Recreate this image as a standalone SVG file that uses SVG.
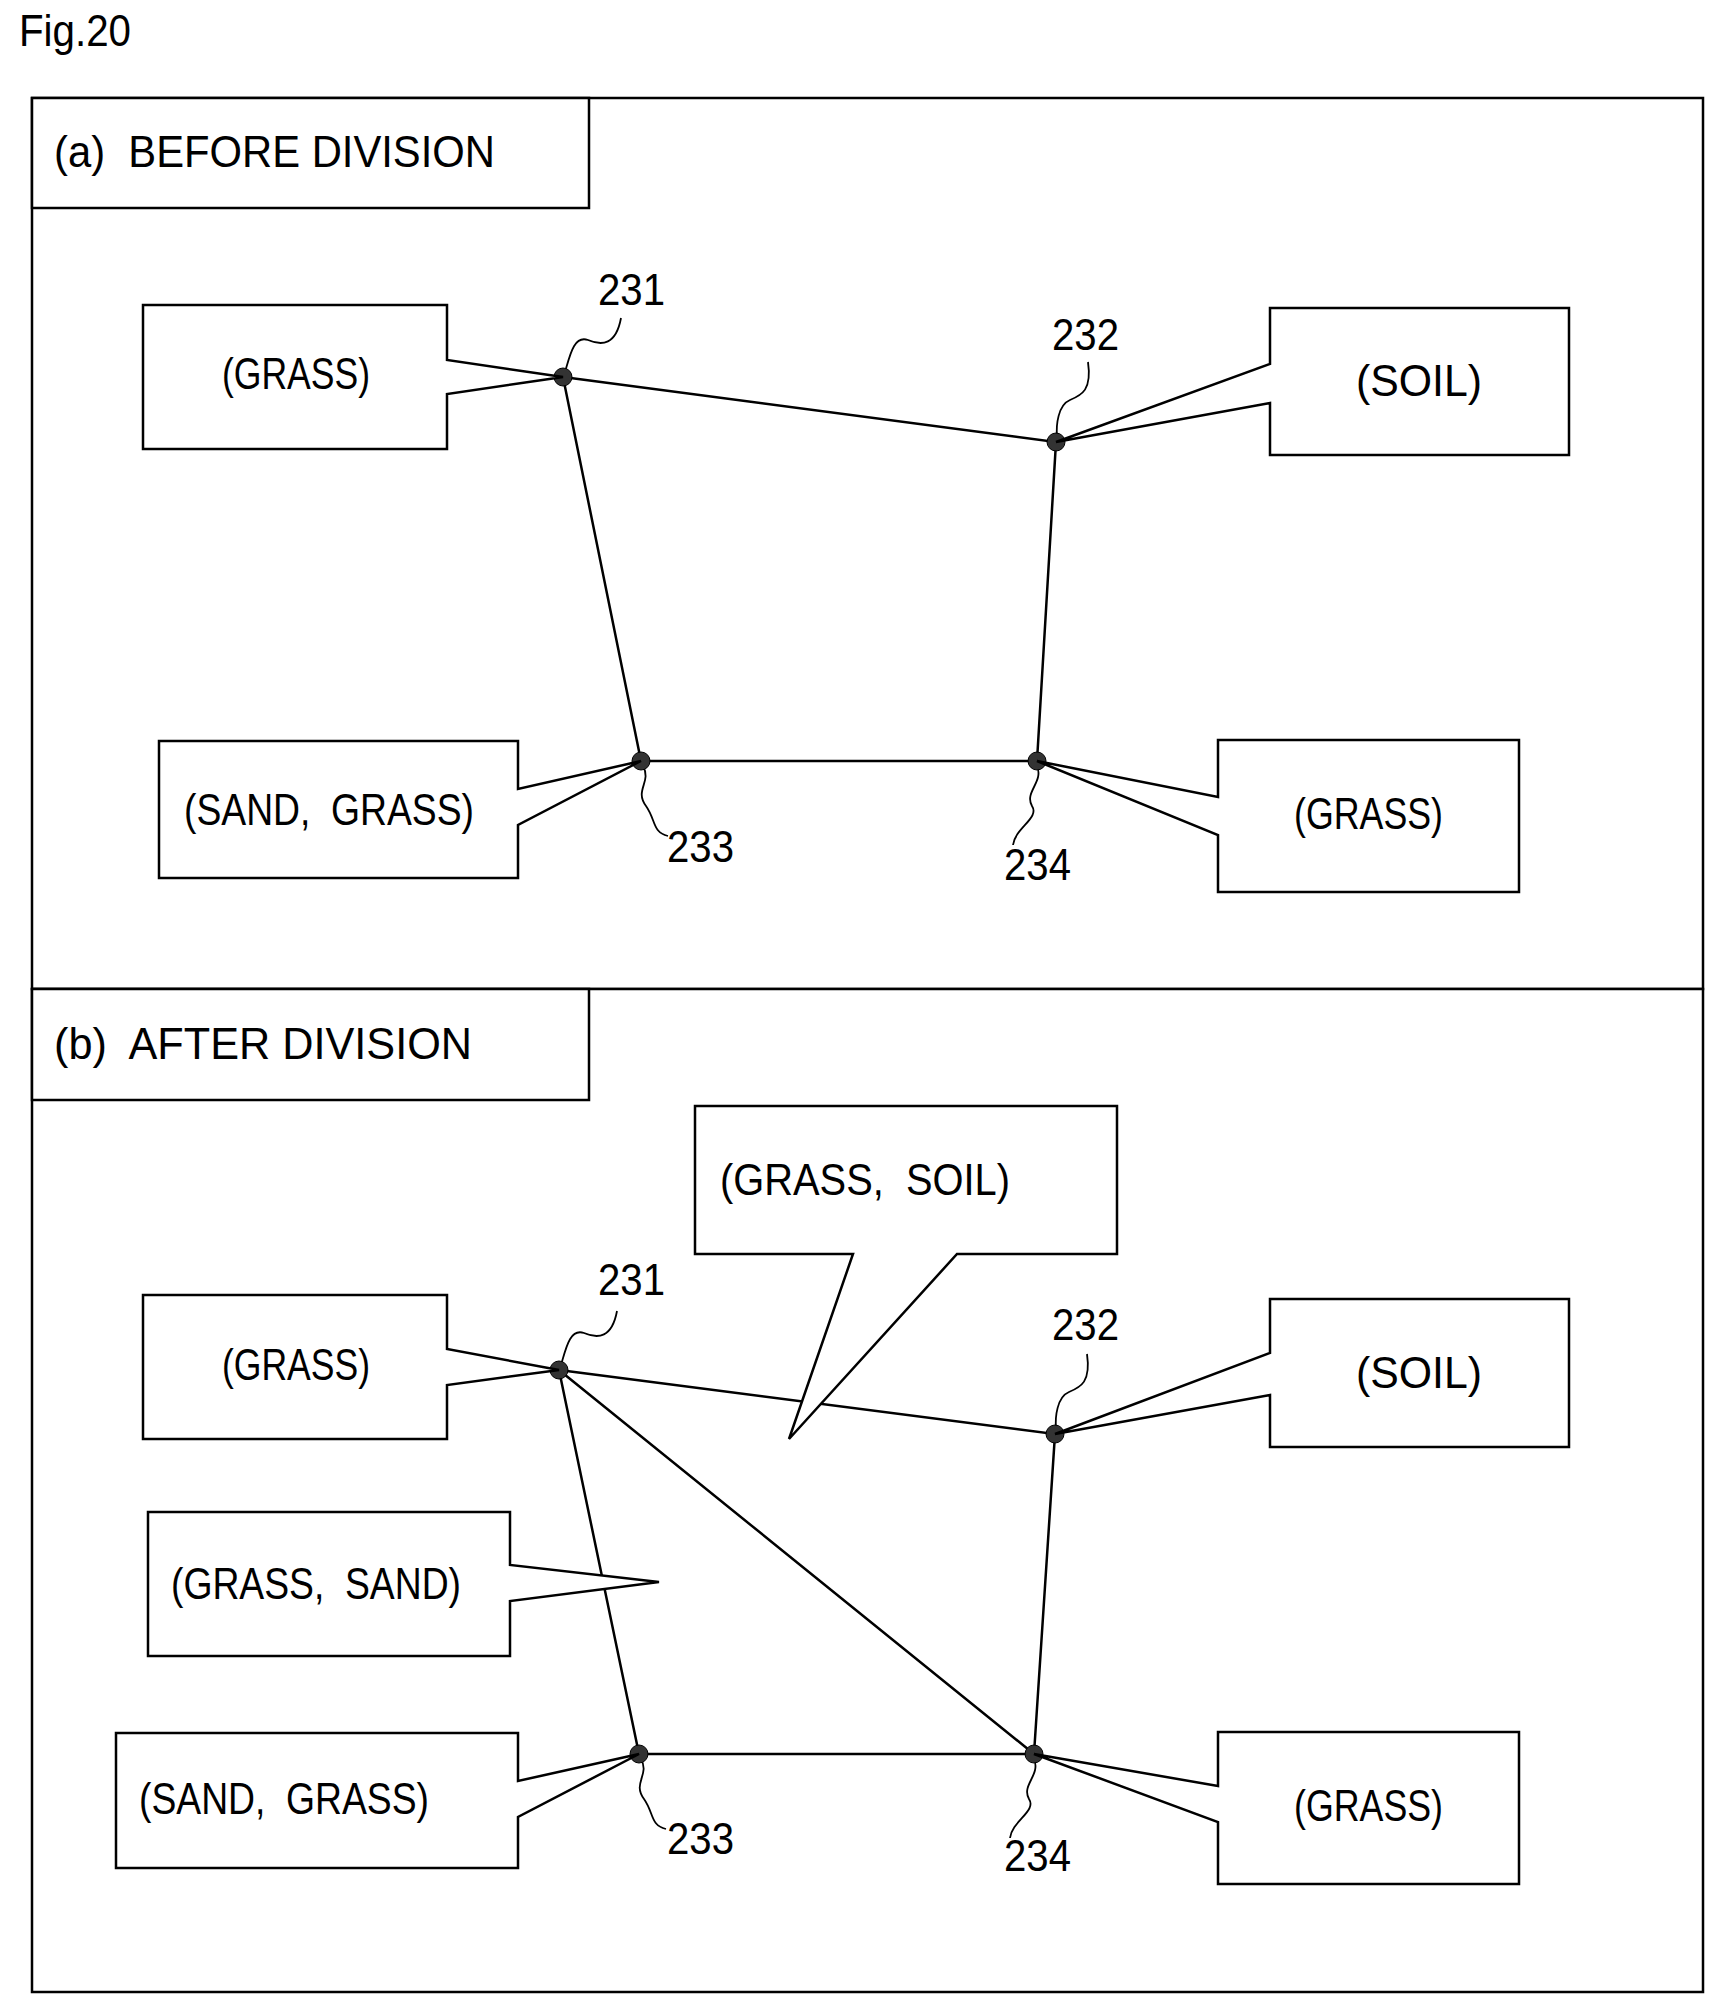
<svg xmlns="http://www.w3.org/2000/svg" width="1722" height="2010" viewBox="0 0 1722 2010">
<style>
.b{fill:#fff;stroke:#000;stroke-width:2.5}
.e{stroke:#000;stroke-width:2.5;fill:none}
.s{stroke:#000;stroke-width:1.8;fill:none}
text{font-family:"Liberation Sans",Arial,sans-serif;font-size:44px;fill:#000;white-space:pre}
.n{fill:#333;stroke:#000;stroke-width:1}
</style>
<rect width="1722" height="2010" fill="#fff"/>
<text x="19" y="46" font-size="38" textLength="112" lengthAdjust="spacingAndGlyphs">Fig.20</text>
<g id="panel-a">
<rect class="b" x="32" y="98" width="1671" height="891"/>
<rect class="b" x="32" y="98" width="557" height="110"/>
<text x="54" y="167" textLength="441" lengthAdjust="spacingAndGlyphs" xml:space="preserve">(a)  BEFORE DIVISION</text>
</g>
<g id="panel-b">
<rect class="b" x="32" y="989" width="1671" height="1003"/>
<rect class="b" x="32" y="989" width="557" height="111"/>
<text x="54" y="1059" textLength="418" lengthAdjust="spacingAndGlyphs" xml:space="preserve">(b)  AFTER DIVISION</text>
</g>
<g id="connectors">
<path class="e" d="M563,377 L1056,442 L1037,761 L641,761 Z"/>
<path class="e" d="M559,1370 L1055,1434 L1034,1754 L639,1754 Z M559,1370 L1034,1754"/>
<path class="s" d="M621,318 C616,345 602,346 588,340 C574,335 570,355 565,372"/>
<path class="s" d="M1088,362 C1092,390 1082,395 1070,400 C1058,405 1056,425 1057,437"/>
<path class="s" d="M643,766 C652,782 634,790 646,806 C656,820 652,832 668,836"/>
<path class="s" d="M1037,766 C1044,782 1024,792 1032,806 C1040,818 1015,828 1013,845"/>
<path class="s" d="M617,1311 C612,1338 598,1339 584,1333 C570,1328 566,1348 561,1365"/>
<path class="s" d="M1087,1354 C1091,1382 1081,1387 1069,1392 C1057,1397 1055,1417 1056,1429"/>
<path class="s" d="M641,1759 C650,1775 632,1783 644,1799 C654,1813 650,1825 666,1829"/>
<path class="s" d="M1034,1759 C1041,1775 1021,1785 1029,1799 C1037,1811 1012,1821 1010,1838"/>
</g>
<g id="nodes-a">
<circle class="n" cx="563" cy="377" r="9"/><circle class="n" cx="1056" cy="442" r="9"/>
<circle class="n" cx="641" cy="761" r="9"/><circle class="n" cx="1037" cy="761" r="9"/>
<text x="598" y="305" textLength="67" lengthAdjust="spacingAndGlyphs">231</text>
<text x="1052" y="350" textLength="67" lengthAdjust="spacingAndGlyphs">232</text>
<text x="667" y="862" textLength="67" lengthAdjust="spacingAndGlyphs">233</text>
<text x="1004" y="880" textLength="67" lengthAdjust="spacingAndGlyphs">234</text>
</g>
<g id="callouts-a">
<path class="b" d="M143,305 H447 V360 L563,377 L447,394 V449 H143 Z"/>
<text x="222" y="389" textLength="148" lengthAdjust="spacingAndGlyphs">(GRASS)</text>
<path class="b" d="M1270,308 H1569 V455 H1270 V403 L1056,442 L1270,364 Z"/>
<text x="1356" y="396" textLength="126" lengthAdjust="spacingAndGlyphs">(SOIL)</text>
<path class="b" d="M159,741 H518 V789 L641,761 L518,825 V878 H159 Z"/>
<text x="184" y="825" textLength="290" lengthAdjust="spacingAndGlyphs" xml:space="preserve">(SAND,  GRASS)</text>
<path class="b" d="M1218,740 H1519 V892 H1218 V835 L1037,761 L1218,797 Z"/>
<text x="1294" y="829" textLength="149" lengthAdjust="spacingAndGlyphs">(GRASS)</text>
</g>
<g id="nodes-b">
<circle class="n" cx="559" cy="1370" r="9"/><circle class="n" cx="1055" cy="1434" r="9"/>
<circle class="n" cx="639" cy="1754" r="9"/><circle class="n" cx="1034" cy="1754" r="9"/>
<text x="598" y="1295" textLength="67" lengthAdjust="spacingAndGlyphs">231</text>
<text x="1052" y="1340" textLength="67" lengthAdjust="spacingAndGlyphs">232</text>
<text x="667" y="1854" textLength="67" lengthAdjust="spacingAndGlyphs">233</text>
<text x="1004" y="1871" textLength="67" lengthAdjust="spacingAndGlyphs">234</text>
</g>
<g id="callouts-b">
<path class="b" d="M143,1295 H447 V1349 L559,1370 L447,1385 V1439 H143 Z"/>
<text x="222" y="1380" textLength="148" lengthAdjust="spacingAndGlyphs">(GRASS)</text>
<path class="b" d="M1270,1299 H1569 V1447 H1270 V1395 L1055,1434 L1270,1353 Z"/>
<text x="1356" y="1388" textLength="126" lengthAdjust="spacingAndGlyphs">(SOIL)</text>
<path class="b" d="M148,1512 H510 V1565 L659,1582 L510,1601 V1656 H148 Z"/>
<text x="171" y="1599" textLength="290" lengthAdjust="spacingAndGlyphs" xml:space="preserve">(GRASS,  SAND)</text>
<path class="b" d="M116,1733 H518 V1781 L639,1754 L518,1817 V1868 H116 Z"/>
<text x="139" y="1814" textLength="290" lengthAdjust="spacingAndGlyphs" xml:space="preserve">(SAND,  GRASS)</text>
<path class="b" d="M1218,1732 H1519 V1884 H1218 V1822 L1034,1754 L1218,1786 Z"/>
<text x="1294" y="1821" textLength="149" lengthAdjust="spacingAndGlyphs">(GRASS)</text>
<path class="b" d="M695,1106 H1117 V1254 H957 L789,1439 L853,1254 H695 Z"/>
<text x="720" y="1195" textLength="290" lengthAdjust="spacingAndGlyphs" xml:space="preserve">(GRASS,  SOIL)</text>
</g>
</svg>
